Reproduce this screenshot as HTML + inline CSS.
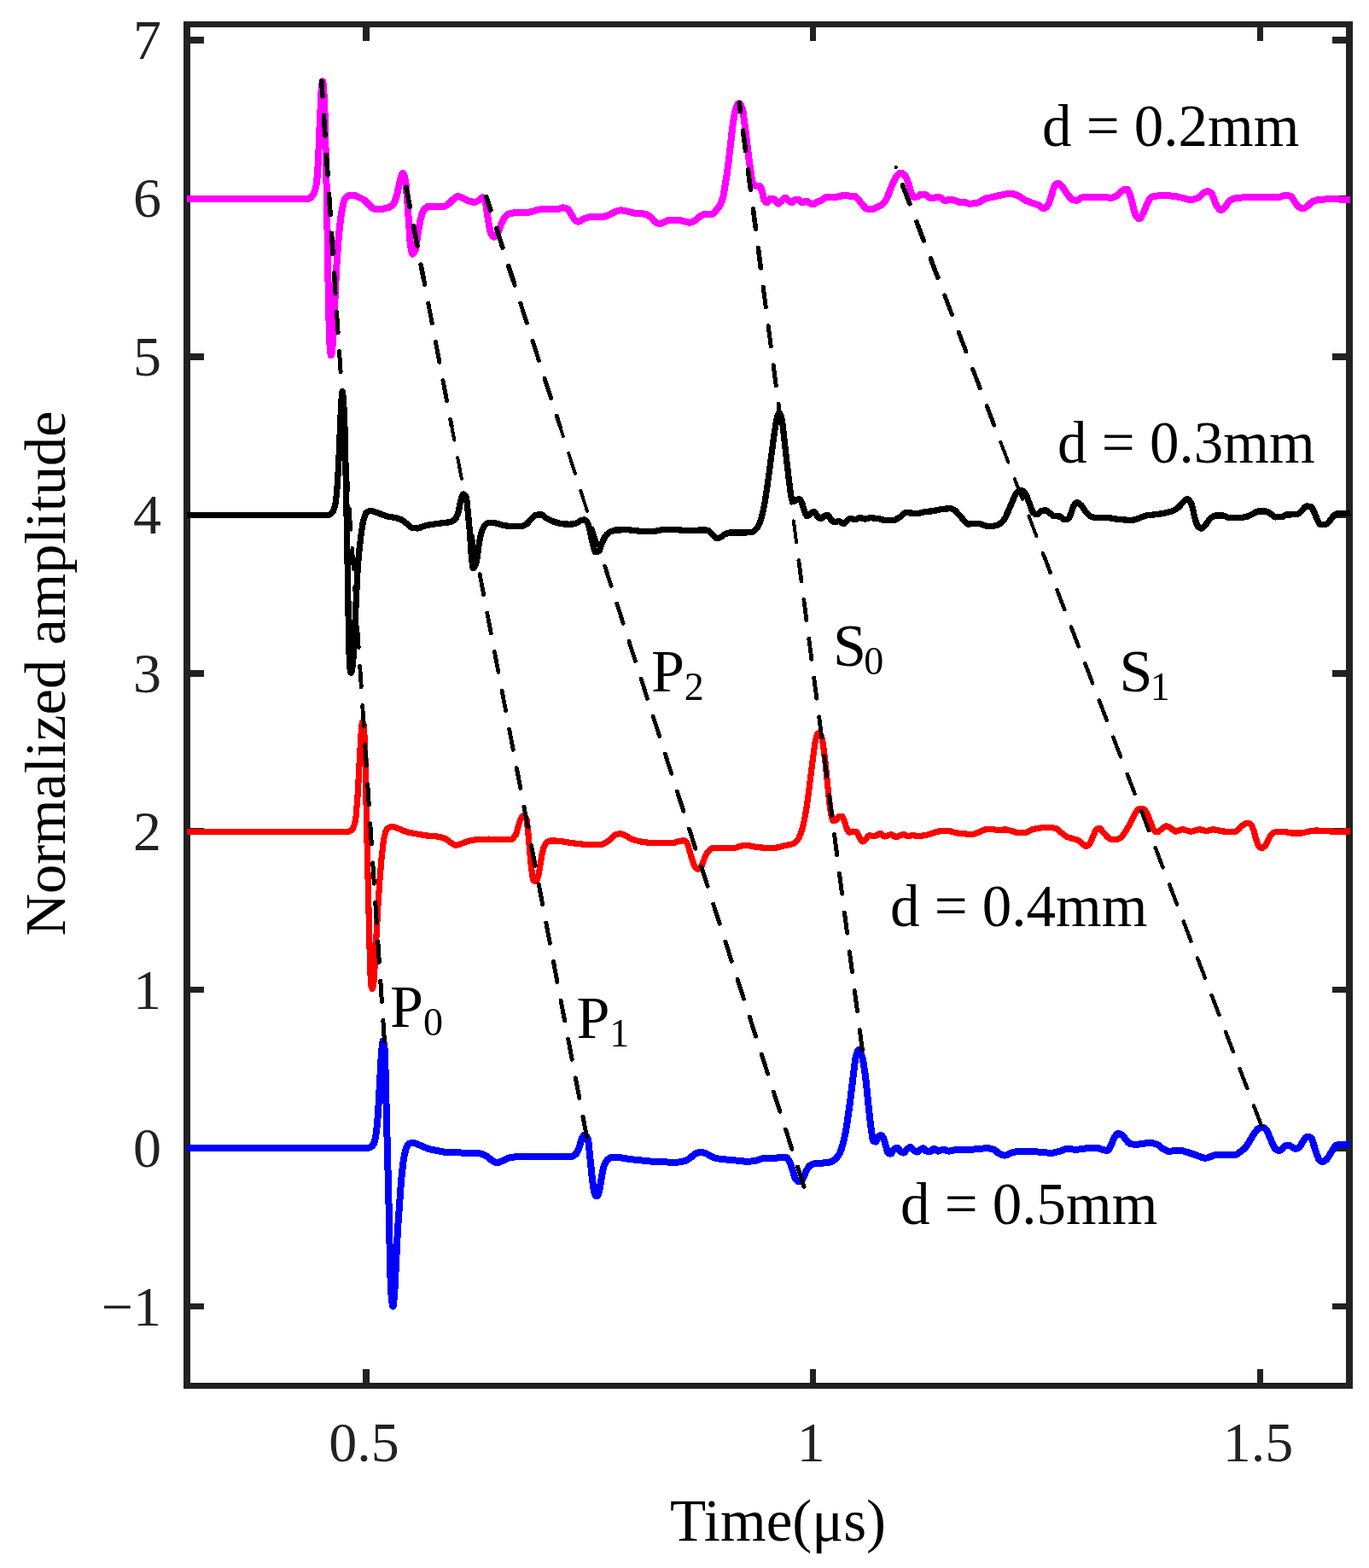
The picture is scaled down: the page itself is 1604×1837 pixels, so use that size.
<!DOCTYPE html>
<html lang="en"><head><meta charset="utf-8"><title>Normalized amplitude vs time</title>
<style>
html,body{margin:0;padding:0;background:#fff;}
body{width:1604px;height:1837px;overflow:hidden;}
svg{display:block;position:absolute;left:0;top:0;}
text{font-family:"Liberation Serif",serif;}
</style></head><body>
<svg shape-rendering="crispEdges" width="1604" height="1837" viewBox="0 0 1604 1837">
<rect width="1604" height="1837" fill="#ffffff"/>
<path d="M215,25H1585V1627H215Z M223,32V1620H1577V32Z" fill="#222222" fill-rule="evenodd"/>
<path d="M425,1604h8v16h-8Z M425,32h8v16h-8Z M949,1604h7v16h-7Z M949,32h7v16h-7Z M1473,1604h7v16h-7Z M1473,32h7v16h-7Z M223,43h16v8h-16Z M1561,43h16v8h-16Z M223,229h16v7h-16Z M1561,229h16v7h-16Z M223,414h16v8h-16Z M1561,414h16v8h-16Z M223,600h16v7h-16Z M1561,600h16v7h-16Z M223,785h16v8h-16Z M1561,785h16v8h-16Z M223,970h16v8h-16Z M1561,970h16v8h-16Z M223,1156h16v7h-16Z M1561,1156h16v7h-16Z M223,1341h16v8h-16Z M1561,1341h16v8h-16Z M223,1527h16v7h-16Z M1561,1527h16v7h-16Z" fill="#222222"/>
<path d="M219.0,1345.0 430.2,1345.0 432.2,1344.7 434.2,1343.8 436.7,1342.1 437.8,1340.2 438.6,1337.9 439.8,1333.2 441.0,1326.3 442.2,1314.3 443.0,1303.8 447.0,1233.1 448.2,1221.6 448.7,1219.6 449.0,1219.8 449.4,1220.9 449.8,1222.8 450.6,1228.7 451.4,1248.4 455.8,1421.6 457.0,1482.0 457.8,1505.3 458.2,1513.4 459.0,1522.5 459.8,1528.7 460.2,1530.2 460.4,1530.4 461.0,1528.5 462.2,1516.3 465.9,1441.8 469.8,1387.2 471.0,1374.1 472.6,1360.4 473.8,1353.5 475.0,1348.0 475.8,1345.3 477.0,1342.9 478.6,1340.5 479.8,1339.6 483.4,1339.1 485.0,1339.1 486.2,1339.3 488.2,1340.0 498.6,1344.6 501.8,1345.8 505.0,1346.6 513.0,1348.2 521.0,1349.9 530.2,1350.4 557.4,1350.7 562.2,1351.4 565.8,1352.3 568.2,1353.4 571.8,1355.6 575.4,1358.8 577.0,1360.1 580.6,1361.9 582.6,1362.2 584.2,1361.9 585.8,1361.3 589.4,1359.7 593.4,1357.6 595.4,1356.9 599.4,1355.9 606.6,1355.0 609.8,1354.8 670.6,1354.7 671.8,1354.2 673.4,1353.0 675.0,1351.6 675.8,1350.5 677.0,1348.1 679.0,1343.2 681.0,1335.9 681.7,1333.9 683.8,1330.4 684.6,1329.9 685.4,1330.0 686.2,1330.4 687.4,1331.7 688.7,1333.9 689.0,1334.8 689.8,1340.8 693.8,1380.2 695.4,1392.5 696.6,1398.5 697.8,1400.4 698.6,1401.2 699.0,1401.3 699.4,1401.2 700.2,1400.3 701.0,1398.7 702.2,1395.4 705.4,1375.9 706.6,1369.8 707.7,1365.8 709.4,1361.9 711.0,1359.5 714.2,1356.7 715.4,1356.1 716.6,1355.8 725.4,1355.9 733.0,1357.3 741.0,1358.4 761.4,1360.5 785.8,1361.7 793.0,1361.8 798.2,1361.1 803.0,1359.9 805.4,1358.7 808.6,1356.7 812.6,1353.1 814.2,1351.9 818.2,1350.4 821.4,1349.8 823.8,1350.2 827.4,1351.4 833.4,1354.8 837.4,1356.4 840.6,1357.3 847.4,1358.2 865.4,1359.8 873.4,1360.7 877.8,1360.7 883.8,1360.1 886.2,1359.5 893.8,1357.0 895.4,1356.6 906.2,1357.2 913.0,1356.1 921.0,1356.0 921.8,1356.4 923.0,1357.6 925.0,1360.8 925.8,1362.5 931.8,1380.8 933.0,1382.3 934.6,1383.7 935.8,1384.3 937.0,1384.5 937.8,1384.2 938.6,1383.5 941.0,1380.3 941.8,1378.8 944.8,1371.6 947.4,1367.1 948.8,1365.6 951.4,1364.2 954.2,1363.3 968.2,1362.2 971.8,1361.6 974.2,1360.8 977.4,1359.1 979.8,1357.1 982.2,1353.9 984.2,1350.3 985.8,1346.0 988.2,1338.0 991.0,1325.3 992.6,1315.1 996.2,1289.3 1001.8,1243.6 1002.5,1239.9 1004.2,1233.1 1005.0,1230.9 1005.8,1229.9 1006.6,1230.2 1007.4,1231.3 1009.0,1234.9 1010.6,1239.8 1011.8,1246.1 1013.4,1256.8 1014.6,1266.4 1018.2,1301.4 1020.2,1319.0 1022.2,1332.9 1023.0,1336.3 1023.2,1336.7 1024.6,1337.4 1026.2,1337.6 1027.0,1336.3 1028.2,1333.4 1029.8,1331.4 1031.0,1330.4 1031.8,1330.1 1032.2,1330.1 1033.0,1330.5 1034.6,1332.6 1035.8,1335.0 1039.4,1347.8 1040.2,1350.1 1041.0,1350.9 1043.0,1351.6 1043.8,1351.6 1044.2,1351.3 1047.0,1346.8 1049.0,1345.4 1050.2,1344.8 1051.2,1344.6 1051.8,1344.9 1054.6,1348.6 1057.0,1350.2 1058.6,1350.6 1059.8,1349.9 1062.2,1346.9 1064.2,1345.2 1065.4,1344.4 1066.5,1344.0 1067.0,1344.1 1067.8,1344.7 1070.5,1347.6 1073.0,1349.2 1074.5,1349.6 1075.8,1349.1 1078.5,1346.6 1080.2,1345.6 1081.4,1345.2 1081.8,1345.3 1082.6,1345.8 1084.6,1348.1 1085.4,1348.6 1087.8,1349.1 1089.5,1349.2 1090.6,1348.8 1093.4,1346.1 1094.5,1345.6 1095.8,1346.2 1097.8,1347.9 1099.0,1348.6 1100.6,1348.4 1103.8,1347.0 1105.4,1346.6 1107.0,1347.0 1110.2,1348.4 1111.4,1348.6 1113.8,1348.4 1118.6,1347.3 1124.2,1346.8 1128.6,1346.6 1140.2,1346.6 1149.0,1345.7 1155.0,1345.3 1158.6,1345.3 1161.4,1345.8 1164.6,1346.8 1165.8,1347.5 1169.0,1350.4 1170.2,1351.2 1174.6,1353.1 1177.3,1353.6 1178.6,1353.4 1179.8,1353.0 1185.0,1350.7 1189.8,1349.4 1192.6,1348.9 1208.6,1348.8 1228.2,1350.6 1232.6,1350.8 1236.2,1350.2 1242.2,1348.7 1248.2,1346.3 1250.6,1345.8 1253.0,1345.9 1258.2,1346.7 1261.0,1346.8 1268.2,1346.1 1275.0,1344.8 1285.8,1344.8 1287.4,1345.1 1292.2,1347.3 1297.8,1347.8 1298.6,1347.3 1299.8,1345.5 1302.2,1340.8 1304.6,1334.9 1305.7,1332.8 1308.2,1329.1 1309.0,1328.3 1310.1,1327.8 1311.0,1327.9 1312.2,1328.4 1315.0,1330.1 1316.2,1331.3 1319.0,1335.1 1321.8,1338.2 1323.4,1339.6 1324.6,1340.2 1328.6,1340.7 1332.6,1340.8 1345.4,1338.9 1347.8,1338.8 1349.8,1339.0 1352.6,1339.7 1356.2,1341.1 1357.8,1342.1 1362.2,1345.6 1366.2,1347.8 1368.2,1348.6 1370.6,1348.7 1381.8,1347.8 1385.0,1347.9 1402.2,1353.6 1408.6,1356.1 1411.0,1356.7 1413.0,1356.7 1415.4,1356.2 1423.4,1353.1 1425.0,1352.8 1435.4,1353.3 1439.8,1353.3 1447.4,1352.9 1449.4,1352.3 1456.2,1347.2 1459.9,1343.6 1461.8,1340.8 1468.6,1329.2 1473.0,1323.2 1474.8,1321.8 1477.0,1320.9 1479.0,1320.5 1480.2,1320.8 1481.4,1321.5 1483.5,1323.6 1484.2,1324.5 1485.4,1326.8 1490.2,1338.0 1493.4,1345.0 1494.6,1346.6 1497.4,1347.8 1499.0,1347.9 1500.2,1347.4 1502.6,1345.8 1505.4,1342.7 1506.2,1342.3 1508.6,1341.8 1509.8,1341.7 1511.0,1342.1 1517.0,1345.7 1518.6,1345.8 1520.2,1345.3 1522.2,1344.2 1523.0,1343.5 1528.2,1334.7 1529.4,1333.2 1531.0,1332.2 1532.6,1331.8 1533.8,1331.9 1535.0,1332.5 1536.6,1333.7 1537.4,1335.1 1542.2,1350.7 1545.0,1357.9 1545.8,1359.1 1546.6,1359.7 1547.8,1360.5 1549.0,1361.0 1550.2,1361.0 1551.4,1360.5 1554.6,1358.0 1556.6,1355.2 1561.8,1346.5 1564.2,1343.2 1565.4,1342.0 1567.8,1341.0 1569.8,1340.5 1577.4,1340.8 1582.0,1339.9" fill="none" stroke="#0000ff" stroke-width="8.0" stroke-linejoin="round" stroke-linecap="butt"/>
<path d="M219.0,974.5 406.2,974.5 408.6,974.1 411.4,972.8 413.0,971.5 414.2,969.1 415.8,963.8 416.6,960.2 417.0,957.4 419.0,933.2 423.0,860.2 424.2,847.4 424.6,845.5 424.7,845.4 425.0,845.6 425.4,846.4 426.2,849.6 426.6,852.9 427.8,882.3 430.2,992.4 433.6,1132.2 434.6,1152.9 435.4,1157.0 435.8,1158.0 436.2,1158.4 436.6,1157.9 437.0,1156.4 438.2,1148.5 443.0,1059.1 444.9,1031.5 447.0,1005.8 449.0,988.0 450.2,980.3 451.4,976.1 452.6,972.9 453.4,971.3 454.5,970.1 457.8,968.8 459.4,968.6 461.0,968.8 463.0,969.3 467.8,971.1 475.0,974.2 479.8,975.4 498.2,978.8 512.2,980.0 517.0,980.9 521.8,982.5 531.4,989.3 533.0,990.0 534.6,990.2 537.8,989.4 548.6,985.3 553.0,984.5 557.8,983.8 565.0,983.4 572.6,983.1 579.8,983.8 597.9,983.8 599.0,983.6 600.2,982.9 601.4,981.8 604.2,978.3 605.4,974.9 607.8,966.1 610.2,959.1 610.9,957.9 612.6,955.6 613.4,955.0 614.2,954.9 615.0,955.7 616.2,958.1 617.0,960.3 617.4,962.5 619.0,977.3 622.2,1014.3 623.8,1026.4 624.2,1028.6 624.8,1030.7 626.2,1032.2 627.4,1032.7 628.2,1032.2 629.0,1030.8 631.0,1025.1 631.8,1020.9 633.8,1007.8 635.4,999.3 636.6,994.4 638.2,990.5 639.4,988.3 640.6,986.9 642.2,985.9 643.8,985.2 645.0,984.9 649.4,984.9 657.0,985.5 668.6,987.5 687.4,989.6 694.2,989.8 703.8,989.4 705.4,989.1 707.0,988.5 711.4,986.3 713.0,985.1 719.4,979.2 721.0,978.1 723.4,977.3 725.8,976.8 728.2,977.0 731.8,978.3 733.8,979.3 738.6,982.4 743.8,984.3 749.4,985.8 758.2,987.1 764.2,987.5 773.0,987.8 787.4,987.5 790.6,987.2 795.4,985.6 797.4,985.2 800.6,984.8 801.4,984.8 802.2,985.0 803.0,985.6 804.2,987.0 805.4,988.8 806.2,990.6 811.4,1008.6 813.0,1013.0 814.6,1015.7 815.8,1017.2 817.0,1018.1 817.8,1018.1 818.6,1017.8 819.8,1017.1 821.8,1015.1 822.6,1013.4 825.3,1005.7 827.8,1000.2 829.0,998.1 832.2,995.1 833.4,994.4 834.6,993.9 838.6,993.5 844.6,993.4 859.8,993.7 861.8,993.3 867.0,991.4 871.4,990.5 874.2,990.2 877.0,990.5 883.4,991.9 892.2,993.0 895.8,993.2 909.4,993.1 912.2,992.6 919.0,990.8 925.8,989.5 928.6,988.7 931.0,987.4 933.8,984.8 935.8,982.1 938.2,976.5 940.6,968.8 942.6,959.9 944.6,948.9 946.8,933.7 954.6,872.0 955.4,867.9 957.0,861.9 957.8,859.9 958.2,859.3 958.8,858.9 959.4,859.1 960.2,859.7 961.8,862.0 963.0,864.6 963.8,868.2 966.6,889.0 971.0,932.9 972.6,946.5 973.7,953.7 975.4,960.7 975.8,961.5 976.1,961.7 978.6,961.1 979.8,960.6 980.2,960.2 981.8,957.5 982.6,956.7 985.4,956.3 986.2,956.3 986.6,956.5 987.8,958.3 989.4,962.0 991.8,970.0 993.4,973.3 994.2,974.5 994.6,974.9 995.3,975.2 996.2,975.1 999.4,974.1 1001.4,974.2 1003.8,974.7 1004.6,975.7 1006.6,980.4 1008.6,983.9 1009.8,985.6 1010.6,986.0 1011.4,985.8 1012.2,985.2 1015.0,982.2 1017.0,979.7 1018.2,978.7 1019.4,978.7 1023.0,979.6 1024.6,979.5 1027.8,978.5 1030.2,977.1 1031.4,976.6 1032.6,977.0 1035.4,979.6 1036.6,980.0 1037.8,979.8 1040.2,978.7 1042.6,978.0 1044.5,977.6 1045.8,978.1 1048.2,980.1 1049.4,980.6 1051.0,980.3 1054.5,978.6 1058.2,977.6 1059.4,977.8 1062.2,979.3 1063.4,979.6 1069.5,978.6 1071.0,978.8 1074.2,979.5 1076.2,979.6 1079.8,979.2 1086.2,978.1 1091.8,976.5 1097.0,974.6 1099.0,974.1 1103.8,973.4 1107.4,973.2 1110.2,973.4 1114.6,974.1 1119.8,975.7 1121.3,976.0 1129.4,976.6 1135.8,977.5 1138.6,977.6 1141.0,977.2 1145.8,975.4 1150.6,973.0 1152.6,972.2 1157.0,971.5 1161.0,971.2 1163.0,971.4 1167.0,972.4 1169.0,972.6 1171.4,972.5 1176.6,971.9 1179.0,971.9 1181.4,972.4 1191.8,975.5 1193.4,975.8 1196.6,975.7 1201.8,975.4 1203.0,975.2 1209.4,971.9 1215.8,970.3 1220.6,969.8 1230.2,969.4 1234.2,969.9 1238.6,971.1 1240.2,972.4 1243.4,975.5 1249.4,980.1 1252.2,981.3 1260.6,983.6 1263.8,984.8 1265.8,986.2 1271.4,991.2 1272.2,991.7 1273.0,991.7 1274.6,990.9 1277.0,988.4 1278.2,986.0 1280.2,980.9 1283.4,973.6 1284.6,971.9 1285.8,970.9 1287.0,970.3 1288.2,970.3 1289.0,970.8 1292.2,974.4 1296.2,979.3 1299.0,981.9 1300.6,983.0 1301.4,983.3 1303.0,983.5 1307.8,983.8 1309.8,983.2 1311.8,982.1 1314.2,980.3 1315.4,979.0 1319.8,972.5 1322.2,968.3 1325.8,961.4 1329.4,953.7 1331.4,950.7 1333.0,948.8 1334.2,948.0 1338.2,947.5 1339.4,947.6 1340.6,948.4 1341.8,949.6 1343.8,952.2 1345.0,954.8 1349.8,968.2 1351.0,971.0 1353.4,973.8 1354.6,974.6 1355.4,974.8 1356.2,974.7 1357.4,974.1 1361.4,971.1 1364.6,968.5 1365.4,968.0 1366.5,967.8 1368.6,968.3 1371.8,970.0 1375.8,973.5 1376.6,974.0 1377.4,974.2 1379.4,973.8 1383.4,972.2 1385.0,971.8 1387.4,972.0 1393.0,973.8 1395.4,974.2 1397.8,973.8 1402.6,972.3 1404.6,971.8 1407.0,972.0 1411.4,973.1 1413.4,973.4 1415.4,973.1 1419.8,972.0 1421.4,971.8 1424.2,972.1 1431.0,973.8 1439.8,974.6 1446.2,974.9 1447.8,974.3 1449.4,973.2 1451.8,971.2 1454.6,968.1 1456.1,966.8 1459.8,964.7 1461.4,964.3 1462.6,964.4 1463.8,964.9 1465.0,965.8 1466.2,966.9 1467.0,968.1 1469.4,974.2 1471.4,982.6 1473.4,988.4 1474.2,990.1 1475.4,991.8 1476.6,993.0 1477.8,993.6 1478.6,993.5 1479.8,993.0 1482.6,990.7 1483.8,988.6 1485.8,984.0 1489.0,978.2 1489.8,977.4 1491.4,976.0 1492.6,975.3 1493.8,974.9 1506.2,974.6 1511.0,975.9 1524.7,976.1 1527.0,975.8 1531.8,974.3 1537.4,973.4 1541.0,973.0 1545.0,973.1 1555.0,973.8 1565.4,974.2 1571.4,974.2 1582.0,973.9" fill="none" stroke="#ff0000" stroke-width="7.2" stroke-linejoin="round" stroke-linecap="butt"/>
<path d="M219.0,603.5 384.2,603.5 385.8,603.1 387.4,602.1 389.4,600.1 390.2,599.0 391.8,594.9 393.0,590.3 394.2,580.5 395.4,566.3 396.6,545.8 399.8,471.3 400.6,461.2 401.1,458.5 401.4,459.3 401.8,462.3 402.6,471.5 403.4,486.9 404.2,510.1 406.5,621.3 408.5,742.1 409.4,776.0 410.2,784.1 410.6,786.5 411.0,788.0 411.4,788.4 411.8,787.8 412.6,784.0 413.4,778.2 413.8,773.5 419.0,668.2 420.6,647.6 423.0,626.9 425.0,613.3 427.4,604.2 428.6,601.2 429.5,600.1 432.6,598.8 434.2,598.5 435.8,598.6 441.4,600.4 447.8,602.9 454.2,605.0 457.0,605.6 463.4,606.5 465.8,607.1 469.0,608.3 472.2,610.0 477.4,614.1 480.6,617.0 482.2,618.1 486.6,618.8 489.0,618.9 490.2,618.7 491.8,618.3 496.6,616.3 502.6,615.0 511.4,613.6 524.2,612.1 527.4,611.6 529.4,610.8 531.8,609.4 533.4,608.0 534.2,607.0 536.2,602.9 537.4,599.0 539.0,590.3 541.0,581.6 541.8,580.2 542.6,579.3 543.3,579.0 543.8,579.1 545.0,580.4 546.3,583.0 547.0,587.2 550.3,621.3 552.2,649.9 553.4,661.3 553.8,664.0 554.4,665.6 555.0,665.3 555.4,665.0 556.2,663.7 557.4,661.1 558.2,658.8 559.0,654.1 560.9,639.8 562.6,629.6 563.8,624.2 565.0,620.9 566.6,617.6 567.8,615.9 570.2,613.6 571.4,612.8 572.6,612.4 577.4,612.6 581.4,613.0 589.0,615.2 596.6,616.6 599.8,616.8 611.0,616.7 613.4,615.9 616.6,614.3 618.2,612.8 625.8,604.5 627.4,603.5 629.8,603.1 633.0,602.9 634.6,603.0 635.8,603.7 639.4,606.6 645.8,609.9 649.0,611.2 653.4,612.6 656.6,613.4 659.0,613.8 667.0,614.2 671.4,614.0 676.2,612.6 679.8,610.2 681.8,609.4 684.6,608.8 685.8,609.3 687.0,610.5 688.2,612.2 689.4,614.8 691.8,624.7 694.2,636.2 695.8,642.5 696.6,645.3 697.0,646.2 697.6,646.7 699.0,646.6 700.6,646.1 701.6,645.7 702.2,645.1 703.0,643.3 705.4,636.1 707.4,631.6 709.0,628.5 711.0,626.1 713.0,624.3 715.0,623.0 718.6,621.7 721.8,620.9 737.0,620.8 749.0,622.2 763.4,622.8 766.6,622.5 774.2,620.9 782.6,620.5 791.0,620.5 803.8,621.6 808.6,621.8 812.6,621.7 821.0,620.9 825.4,620.9 829.4,621.4 830.6,622.0 838.2,629.7 839.4,630.6 840.2,630.8 841.8,630.5 843.4,629.8 845.4,628.7 847.8,626.7 849.4,625.9 852.2,624.7 854.2,624.2 855.8,624.0 873.0,624.0 880.6,623.5 882.2,622.8 883.8,621.6 886.2,619.3 887.8,617.3 889.4,614.2 891.0,610.1 892.2,606.5 893.4,601.8 896.2,587.7 898.2,575.0 901.0,555.2 906.6,512.2 909.0,496.4 910.6,488.5 911.8,485.2 912.2,484.4 912.8,483.9 913.4,484.3 913.8,484.8 915.0,487.5 915.8,490.0 916.6,494.3 923.8,557.8 926.2,577.3 927.0,582.3 927.8,585.0 928.6,586.9 929.0,587.5 929.4,587.7 929.8,587.6 932.2,586.0 934.2,585.2 936.6,584.7 937.4,585.1 938.2,586.3 939.8,589.8 942.6,599.4 944.2,602.9 945.4,604.6 945.8,604.6 946.6,604.4 949.4,601.8 951.8,600.3 953.0,599.8 953.8,599.7 954.2,599.8 955.0,600.6 957.4,604.3 959.8,606.7 961.0,607.5 961.8,607.6 962.6,607.3 964.6,605.4 965.7,604.6 968.2,603.8 969.8,603.7 970.2,603.8 971.0,604.7 973.4,608.4 975.4,610.4 976.6,611.3 977.4,611.6 978.2,611.6 981.8,610.7 983.0,610.7 984.2,611.1 987.0,613.1 988.2,613.6 989.0,613.5 989.4,613.3 992.6,609.6 994.6,608.3 996.2,607.7 997.4,607.7 1000.6,608.5 1001.8,608.6 1003.0,608.3 1006.2,606.9 1007.4,606.6 1008.6,606.7 1012.2,607.9 1013.5,608.0 1015.0,607.8 1018.6,606.7 1021.0,606.7 1029.8,607.7 1036.6,609.6 1047.0,609.6 1049.0,609.0 1051.0,607.9 1055.0,605.3 1059.4,601.4 1061.0,600.7 1063.8,600.7 1073.8,601.6 1076.2,601.6 1083.4,599.7 1093.8,598.6 1101.8,596.9 1106.6,596.2 1113.4,595.7 1114.6,595.9 1116.2,596.5 1118.6,597.8 1119.8,598.8 1124.6,604.0 1131.4,612.1 1132.6,613.3 1133.4,613.8 1134.2,614.0 1142.6,613.6 1148.6,613.8 1150.6,614.4 1155.4,616.3 1157.4,616.7 1160.6,616.6 1164.6,616.1 1168.2,615.3 1170.2,614.4 1172.6,612.8 1175.4,610.2 1177.0,607.8 1178.6,604.6 1181.8,597.8 1186.2,587.2 1189.4,580.3 1190.6,578.2 1191.8,576.9 1193.8,575.8 1195.8,575.1 1197.8,574.9 1198.6,575.1 1199.8,576.1 1203.0,581.2 1209.4,598.6 1210.6,600.6 1211.8,601.6 1213.4,602.5 1215.0,602.8 1216.2,602.1 1218.6,599.6 1219.4,599.0 1223.0,598.0 1225.4,597.9 1227.0,598.7 1234.2,604.3 1235.7,604.8 1242.2,604.9 1243.4,605.8 1245.4,608.1 1246.6,608.8 1249.8,608.4 1251.7,607.8 1252.2,607.4 1253.0,606.0 1255.0,601.0 1257.4,593.3 1259.8,589.9 1260.6,589.2 1261.4,588.9 1262.6,589.0 1263.8,589.6 1267.0,592.1 1268.2,593.6 1271.4,598.5 1275.8,603.5 1277.4,604.7 1280.6,605.9 1283.0,606.5 1285.4,606.8 1293.8,606.2 1296.6,606.2 1299.0,606.5 1304.6,607.6 1309.0,608.2 1320.6,609.2 1325.8,609.4 1328.2,609.1 1330.6,608.4 1336.2,606.5 1341.0,604.5 1343.0,603.9 1354.6,602.7 1362.2,601.6 1368.2,600.4 1373.4,598.8 1376.6,597.3 1380.2,594.8 1382.2,593.0 1385.0,589.3 1386.2,588.0 1389.4,585.5 1390.6,584.9 1391.3,584.8 1392.2,585.1 1393.4,586.1 1395.0,588.3 1395.8,589.8 1396.6,592.5 1400.6,609.3 1402.6,615.2 1403.1,616.1 1405.0,618.0 1406.2,618.9 1407.4,619.2 1408.6,618.8 1410.2,617.4 1413.4,613.7 1416.6,609.0 1418.2,607.1 1421.8,604.8 1423.4,604.1 1424.6,603.9 1433.4,604.0 1435.0,604.5 1439.0,606.3 1440.6,606.7 1452.6,606.6 1457.4,606.0 1461.4,605.1 1467.8,602.1 1471.8,599.8 1473.8,599.0 1482.3,598.9 1483.8,599.1 1485.8,600.1 1489.0,602.0 1492.2,604.7 1493.8,605.7 1494.6,605.9 1496.2,605.8 1502.2,605.5 1503.4,605.1 1505.8,603.5 1507.0,603.0 1518.6,602.7 1520.6,602.4 1522.6,600.8 1529.4,593.7 1530.6,593.1 1532.6,593.1 1535.9,593.6 1537.0,594.6 1540.2,601.0 1542.6,606.9 1545.0,612.1 1546.2,614.2 1547.1,614.8 1552.2,614.8 1553.4,614.5 1555.0,613.2 1557.8,610.4 1561.8,605.1 1564.2,603.1 1565.8,602.1 1567.0,601.7 1575.8,601.7 1579.8,601.1 1582.0,600.5" fill="none" stroke="#000000" stroke-width="7.3" stroke-linejoin="round" stroke-linecap="butt"/>
<path d="M219.0,233.0 361.1,233.0 362.6,232.6 363.8,231.7 366.6,228.6 368.2,225.6 369.4,222.2 370.2,219.1 371.0,213.9 371.8,205.4 373.0,187.9 374.6,146.9 376.6,106.0 377.1,100.2 377.8,95.8 378.1,95.4 378.6,97.7 379.4,108.1 380.2,122.9 380.6,135.0 382.9,231.1 384.6,335.2 385.8,389.2 386.6,406.1 387.4,414.5 387.9,416.4 388.2,416.1 388.6,414.4 389.0,411.5 390.2,399.2 394.2,314.8 396.2,285.2 397.8,267.5 399.8,251.0 402.2,238.6 403.0,235.7 403.8,233.6 405.8,230.9 407.4,229.5 408.5,229.1 410.6,228.9 414.6,228.8 417.0,229.5 423.8,232.6 427.4,234.8 435.8,243.3 437.0,244.2 438.2,244.8 448.6,244.7 451.8,244.1 455.8,242.9 458.2,241.5 460.6,239.5 461.4,238.4 462.6,235.9 465.4,227.2 468.2,213.7 470.2,206.4 471.4,203.3 471.8,203.0 472.2,203.0 473.0,204.2 473.8,206.5 474.9,211.0 475.4,213.8 477.4,237.0 480.6,284.2 481.0,287.5 482.2,294.5 483.0,297.2 483.4,297.6 484.2,297.2 485.4,295.5 486.6,292.7 487.4,290.2 489.8,273.0 492.6,257.2 495.0,249.3 496.2,246.5 497.0,245.3 500.2,242.6 501.4,242.0 502.6,241.6 504.6,241.7 511.0,242.2 519.4,242.2 521.0,241.8 522.6,241.0 525.8,238.8 530.6,233.8 533.4,231.5 535.0,230.5 536.2,230.1 538.2,230.4 540.2,231.1 544.6,233.1 549.4,235.6 553.0,236.5 555.4,236.7 556.6,236.7 557.8,236.4 560.9,234.8 563.8,231.9 564.6,231.4 566.2,231.4 567.9,231.8 568.2,232.4 568.6,234.4 571.8,256.8 574.2,270.5 574.9,272.7 576.2,275.2 577.4,276.9 578.6,277.6 579.4,277.5 580.2,277.0 581.4,275.7 583.0,273.4 584.2,270.8 586.6,264.2 589.8,257.3 590.8,255.7 593.0,252.9 594.2,251.7 595.4,250.9 599.0,249.9 602.2,249.4 615.8,249.3 617.8,249.2 624.6,247.5 630.2,245.8 632.6,245.4 652.2,245.3 653.8,245.0 657.8,243.6 659.4,243.3 662.2,243.8 665.8,245.4 667.0,246.9 669.4,251.4 673.0,257.1 675.4,259.0 676.6,259.5 677.4,259.7 678.2,259.6 679.4,259.2 683.4,256.8 687.4,255.2 689.8,254.5 691.4,254.3 704.2,254.3 706.2,254.1 709.0,253.4 713.0,252.2 718.2,249.3 722.6,247.5 725.4,246.6 727.5,246.3 731.8,246.9 743.0,249.7 753.4,250.5 756.6,251.0 758.6,251.9 761.8,254.0 767.0,259.4 769.8,261.3 771.8,262.0 773.4,262.0 775.0,261.6 778.2,260.3 781.8,258.4 783.3,258.1 796.2,258.1 798.6,258.5 806.6,260.5 808.2,260.7 809.4,260.6 811.8,259.7 815.4,257.6 820.6,253.1 824.2,251.4 826.6,250.8 835.2,250.7 835.8,250.5 838.0,247.6 842.2,242.8 843.8,240.1 845.0,237.4 846.6,232.8 847.8,227.9 851.4,206.5 853.8,188.6 858.2,149.1 860.6,133.3 861.4,129.6 863.0,125.0 864.6,121.9 865.4,121.1 865.8,120.9 866.2,121.0 867.0,121.6 868.2,123.6 869.9,127.9 870.6,131.0 873.0,148.9 877.0,182.6 880.2,205.3 881.4,212.3 882.6,215.2 883.4,216.6 884.2,217.4 884.8,217.7 889.8,217.7 890.6,218.3 891.4,219.8 893.0,224.2 894.6,232.1 895.4,234.6 897.0,236.4 897.8,237.0 898.6,237.2 899.0,237.2 899.8,236.5 902.2,232.9 902.8,232.6 903.8,232.7 906.6,233.2 907.4,233.6 910.6,237.9 911.4,238.6 912.2,238.6 913.4,237.9 915.8,235.6 918.6,232.2 919.4,231.7 919.8,231.6 921.0,232.2 925.8,236.3 927.4,237.2 927.8,237.2 928.6,236.8 930.6,234.7 931.4,234.1 935.8,234.0 936.6,234.4 938.6,236.6 939.4,237.2 940.6,237.1 943.8,235.8 945.0,235.7 945.8,236.0 948.6,238.0 951.4,239.1 953.0,239.2 954.2,238.8 957.7,236.6 963.0,234.4 966.6,231.5 968.2,230.7 969.8,230.7 975.0,231.2 977.8,231.1 983.8,230.2 987.8,228.9 989.8,228.7 995.0,229.6 1000.6,229.7 1001.4,229.8 1003.0,231.0 1006.2,234.3 1013.0,242.7 1014.6,244.2 1015.4,244.6 1017.8,245.0 1022.2,245.1 1023.8,244.6 1027.0,242.9 1032.2,240.4 1034.2,239.0 1036.2,236.9 1038.2,234.1 1039.4,231.7 1045.4,216.0 1048.6,209.4 1050.2,207.0 1052.6,204.3 1054.2,203.1 1055.4,202.7 1056.6,202.9 1058.2,203.8 1060.4,205.7 1061.4,207.1 1062.6,209.8 1064.6,215.3 1066.6,223.3 1067.4,225.7 1069.0,229.2 1069.8,230.4 1070.2,230.6 1075.0,230.5 1078.2,228.1 1079.0,227.7 1083.4,227.9 1085.0,228.3 1088.2,231.1 1089.3,231.6 1093.4,232.0 1094.6,231.8 1097.4,230.8 1099.4,230.8 1102.6,231.8 1105.8,234.6 1107.0,235.2 1108.6,235.0 1112.2,233.8 1114.2,233.7 1118.6,234.7 1123.0,236.6 1131.4,237.3 1134.6,238.5 1135.8,238.8 1140.6,238.4 1146.2,237.3 1148.2,236.4 1152.6,233.4 1155.4,232.4 1163.8,230.8 1171.8,228.8 1179.0,227.3 1182.2,226.9 1184.6,226.8 1187.8,227.4 1192.6,229.1 1194.6,230.3 1199.0,233.3 1202.2,235.0 1207.8,237.4 1215.8,239.8 1217.0,240.5 1221.0,243.6 1222.2,244.1 1223.4,244.1 1224.6,243.6 1225.8,242.7 1228.2,240.1 1229.8,235.9 1235.0,219.1 1235.7,217.8 1237.0,216.4 1238.2,215.4 1239.4,214.9 1240.2,214.9 1241.4,215.5 1245.0,219.2 1246.2,220.8 1250.2,227.2 1254.6,232.4 1255.8,233.4 1256.6,233.8 1259.0,234.5 1261.0,234.8 1262.2,234.7 1263.0,234.4 1267.0,231.6 1271.8,230.9 1276.6,230.8 1285.8,231.4 1293.8,230.8 1300.6,231.8 1303.0,231.6 1305.0,231.0 1308.2,229.4 1314.2,224.0 1317.8,221.8 1319.0,221.5 1319.8,221.5 1320.6,222.0 1321.4,223.0 1323.8,227.5 1325.0,231.6 1327.4,241.5 1329.4,248.6 1330.6,252.2 1331.4,253.7 1332.6,254.9 1333.8,255.8 1335.0,256.1 1335.4,256.1 1336.2,255.5 1337.8,252.9 1340.2,248.2 1343.8,239.0 1346.2,234.6 1347.8,232.2 1349.0,231.0 1349.8,230.7 1352.6,229.9 1355.8,229.5 1366.2,229.0 1375.4,229.8 1379.0,230.4 1385.8,231.9 1392.6,233.9 1395.8,234.2 1398.6,233.6 1405.0,231.1 1406.2,230.1 1408.6,227.3 1409.8,226.2 1413.4,224.5 1414.6,224.3 1415.8,224.3 1418.2,225.4 1419.4,226.2 1419.8,226.7 1424.6,239.2 1425.8,241.8 1428.6,245.1 1429.8,245.9 1430.5,246.1 1431.4,245.9 1432.2,245.5 1433.8,244.1 1436.2,241.6 1439.4,236.6 1441.0,235.2 1443.0,233.8 1444.6,233.1 1447.8,232.3 1455.8,231.4 1462.2,231.1 1471.8,231.5 1493.8,231.4 1499.4,231.0 1503.8,229.4 1505.4,229.0 1507.4,229.0 1509.8,229.3 1512.2,229.9 1513.0,230.4 1519.0,239.5 1520.6,241.5 1524.2,243.7 1525.4,244.1 1526.6,244.2 1528.2,243.8 1529.8,242.8 1533.0,240.5 1536.2,237.4 1537.8,236.2 1540.6,235.0 1543.8,234.2 1548.2,233.7 1554.6,233.4 1582.0,233.6" fill="none" stroke="#ff00ff" stroke-width="8.0" stroke-linejoin="round" stroke-linecap="butt"/>
<defs><clipPath id="b0"><rect x="0" y="0" width="1604" height="330"/></clipPath><clipPath id="b1"><rect x="0" y="330" width="1604" height="170"/></clipPath><clipPath id="b2"><rect x="0" y="500" width="1604" height="150"/></clipPath><clipPath id="b3"><rect x="0" y="650" width="1604" height="250"/></clipPath><clipPath id="b4"><rect x="0" y="900" width="1604" height="937"/></clipPath></defs>
<g clip-path="url(#b0)" fill="none" stroke="#000" stroke-linecap="round"><path d="M450.4,1219.2 L376.8,95.0" stroke-width="5.6" stroke-dasharray="23.6 22.6"/><path d="M687.5,1331.7 L475.4,216.8" stroke-width="5.6" stroke-dasharray="23.6 22.6"/><path d="M941.9,1389.8 L569.8,230.5" stroke-width="5.6" stroke-dasharray="23.6 22.6"/><path d="M1010.3,1230.2 L866.3,120.8" stroke-width="5.6" stroke-dasharray="23.6 22.6"/><path d="M1477.6,1317.9 L1050.4,198.3" stroke-width="5.6" stroke-dasharray="23.6 22.6"/></g>
<g clip-path="url(#b1)" fill="none" stroke="#000" stroke-linecap="round"><path d="M450.4,1219.5 L376.8,94.7" stroke-width="5.0" stroke-dasharray="24.2 22.0"/><path d="M687.5,1332.0 L475.4,216.5" stroke-width="5.0" stroke-dasharray="24.2 22.0"/><path d="M942.0,1390.1 L569.7,230.2" stroke-width="5.0" stroke-dasharray="24.2 22.0"/><path d="M1010.4,1230.5 L866.2,120.5" stroke-width="5.0" stroke-dasharray="24.2 22.0"/><path d="M1477.7,1318.2 L1050.3,198.0" stroke-width="5.0" stroke-dasharray="24.2 22.0"/></g>
<g clip-path="url(#b2)" fill="none" stroke="#000" stroke-linecap="round"><path d="M450.5,1220.0 L376.7,94.2" stroke-width="4.0" stroke-dasharray="25.2 21.0"/><path d="M687.6,1332.5 L475.3,216.0" stroke-width="4.0" stroke-dasharray="25.2 21.0"/><path d="M942.2,1390.6 L569.5,229.7" stroke-width="4.0" stroke-dasharray="25.2 21.0"/><path d="M1010.4,1231.0 L866.2,120.0" stroke-width="4.0" stroke-dasharray="25.2 21.0"/><path d="M1477.9,1318.6 L1050.1,197.6" stroke-width="4.0" stroke-dasharray="25.2 21.0"/></g>
<g clip-path="url(#b3)" fill="none" stroke="#000" stroke-linecap="round"><path d="M450.4,1219.6 L376.8,94.6" stroke-width="4.8" stroke-dasharray="24.4 21.8"/><path d="M687.6,1332.1 L475.3,216.4" stroke-width="4.8" stroke-dasharray="24.4 21.8"/><path d="M942.1,1390.2 L569.6,230.1" stroke-width="4.8" stroke-dasharray="24.4 21.8"/><path d="M1010.4,1230.6 L866.2,120.4" stroke-width="4.8" stroke-dasharray="24.4 21.8"/><path d="M1477.8,1318.4 L1050.2,197.8" stroke-width="4.6" stroke-dasharray="24.6 21.6"/></g>
<g clip-path="url(#b4)" fill="none" stroke="#000" stroke-linecap="round"><path d="M450.4,1219.5 L376.8,94.7" stroke-width="5.0" stroke-dasharray="24.2 22.0"/><path d="M687.5,1332.0 L475.4,216.5" stroke-width="5.0" stroke-dasharray="24.2 22.0"/><path d="M942.0,1390.1 L569.7,230.2" stroke-width="5.0" stroke-dasharray="24.2 22.0"/><path d="M1010.4,1230.5 L866.2,120.5" stroke-width="5.0" stroke-dasharray="24.2 22.0"/><path d="M1477.8,1318.4 L1050.2,197.8" stroke-width="4.5" stroke-dasharray="24.7 21.5"/></g>
<circle cx="1049.6" cy="196" r="2.2" fill="#000"/>
<g>
<text x="189" y="69.0" text-anchor="end" font-size="66" fill="#222222">7</text>
<text x="189" y="254.4" text-anchor="end" font-size="66" fill="#222222">6</text>
<text x="189" y="439.9" text-anchor="end" font-size="66" fill="#222222">5</text>
<text x="189" y="625.3" text-anchor="end" font-size="66" fill="#222222">4</text>
<text x="189" y="810.8" text-anchor="end" font-size="66" fill="#222222">3</text>
<text x="189" y="996.2" text-anchor="end" font-size="66" fill="#222222">2</text>
<text x="189" y="1181.7" text-anchor="end" font-size="66" fill="#222222">1</text>
<text x="189" y="1367.1" text-anchor="end" font-size="66" fill="#222222">0</text>
<text x="189" y="1552.6" text-anchor="end" font-size="66" fill="#222222">−1</text>
<text x="426.6" y="1712" text-anchor="middle" font-size="66" fill="#222222">0.5</text>
<text x="950.3" y="1712" text-anchor="middle" font-size="66" fill="#222222">1</text>
<text x="1474.0" y="1712" text-anchor="middle" font-size="66" fill="#222222">1.5</text>
<text x="911.6" y="1804.6" text-anchor="middle" font-size="69" fill="#000">Time(μs)</text>
<text transform="translate(75.5,788.9) rotate(-90)" text-anchor="middle" font-size="68.6" fill="#000">Normalized amplitude</text>
<text x="1220.9" y="171.0" font-size="69" fill="#000">d = 0.2mm</text>
<text x="1239.1" y="541.8" font-size="69" fill="#000">d = 0.3mm</text>
<text x="1042.9" y="1085.3" font-size="69" fill="#000">d = 0.4mm</text>
<text x="1054.9" y="1434.1" font-size="69" fill="#000">d = 0.5mm</text>
<text x="457.0" y="1202.8" font-size="70" fill="#000">P<tspan font-size="46" dx="0.0" dy="10">0</tspan></text>
<text x="675.4" y="1215.8" font-size="70" fill="#000">P<tspan font-size="46" dx="0.0" dy="10">1</tspan></text>
<text x="762.9" y="809.8" font-size="70" fill="#000">P<tspan font-size="46" dx="0.0" dy="10">2</tspan></text>
<text x="975.9" y="780.0" font-size="70" fill="#000">S<tspan font-size="46" dx="-2.5" dy="10">0</tspan></text>
<text x="1311.4" y="810.0" font-size="70" fill="#000">S<tspan font-size="46" dx="-2.5" dy="10">1</tspan></text>
</g>
</svg>
</body></html>
